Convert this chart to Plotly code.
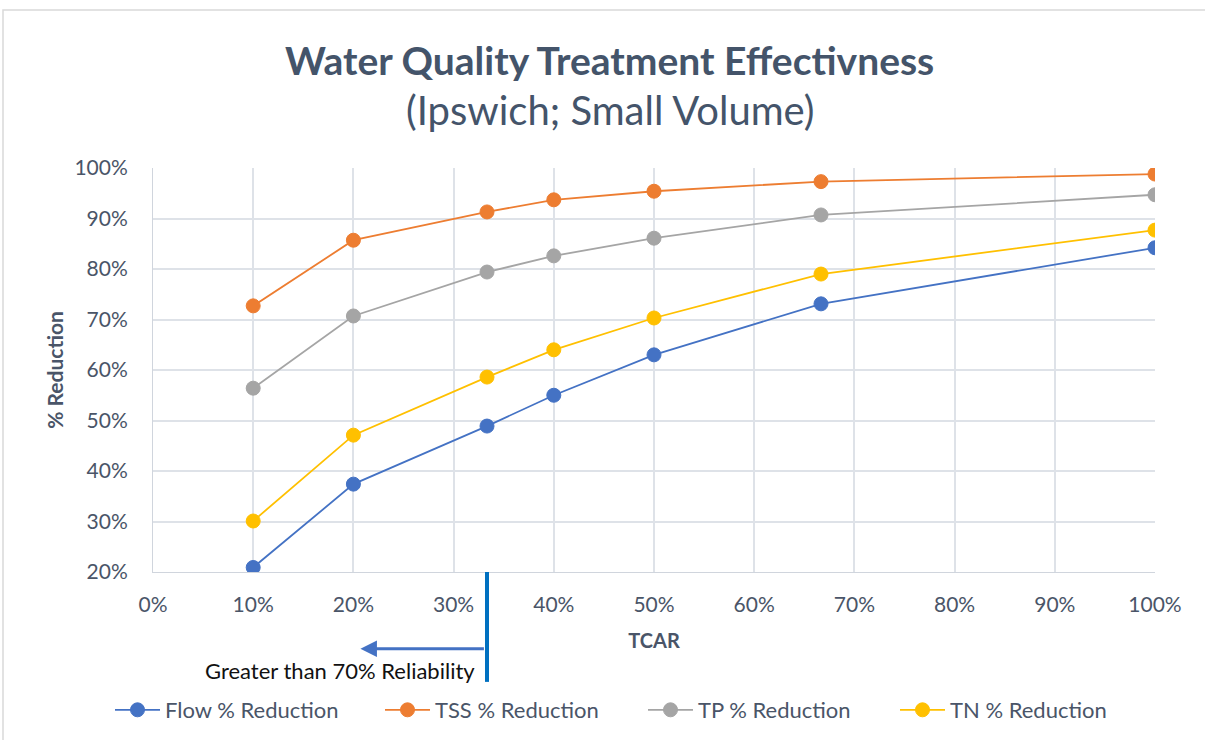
import plotly.graph_objects as go

# TCAR values (fraction of catchment) and % reduction for each constituent
tcar = [0.10, 0.20, 1/3, 0.40, 0.50, 2/3, 1.00]
flow_red = [0.209, 0.374, 0.489, 0.550, 0.630, 0.731, 0.842]
tss_red = [0.727, 0.857, 0.913, 0.937, 0.954, 0.973, 0.988]
tp_red = [0.564, 0.707, 0.794, 0.826, 0.861, 0.907, 0.947]
tn_red = [0.301, 0.471, 0.586, 0.640, 0.703, 0.790, 0.877]

series_names = ["Flow % Reduction", "TSS % Reduction", "TP % Reduction", "TN % Reduction"]
series_vals = [flow_red, tss_red, tp_red, tn_red]
series_colors = ["#4472C4", "#ED7D31", "#A5A5A5", "#FFC000"]

reliability_tcar = 1/3

FONT = "Lato"
TXT = "#4A5568"

# one legend per series so the entries sit evenly across the footer
legend_ids = ["legend", "legend2", "legend3", "legend4"]
legend_left_px = [110, 380, 643, 895]

fig = go.Figure()
for name, vals, col, lid in zip(series_names, series_vals, series_colors, legend_ids):
    fig.add_trace(go.Scatter(
        x=tcar, y=vals, name=name, mode="lines+markers", legend=lid,
        line=dict(color=col, width=1.8),
        marker=dict(size=14, color=col, line=dict(color=col, width=1)),
    ))

# reliability threshold marker below the axis
fig.add_shape(type="line", xref="x", yref="paper",
              x0=reliability_tcar, x1=reliability_tcar, y0=0, y1=-0.272,
              line=dict(color="#0070C0", width=4), layer="above")
fig.add_annotation(xref="x", yref="paper", x=0.207, y=-0.19,
                   ax=125, ay=0, text="", showarrow=True, arrowhead=2,
                   arrowsize=1.1, arrowwidth=3, arrowcolor="#4472C4")
fig.add_annotation(xref="x", yref="paper", x=0.323, y=-0.243,
                   xanchor="right", yanchor="middle", showarrow=False,
                   text="Greater than 70% Reliability",
                   font=dict(family=FONT, size=22, color="#111111"))

# title and subtitle
fig.add_annotation(xref="paper", yref="paper", x=0.456, y=1.267,
                   xanchor="center", yanchor="middle", showarrow=False,
                   text="<b>Water Quality Treatment Effectivness</b>",
                   font=dict(family=FONT, size=39, color="#44546A"))
fig.add_annotation(xref="paper", yref="paper", x=0.456, y=1.144,
                   xanchor="center", yanchor="middle", showarrow=False,
                   text="(Ipswich; Small Volume)",
                   font=dict(family=FONT, size=40, color="#44546A"))

# outer chart frame
fig.add_shape(type="rect", xref="paper", yref="paper",
              x0=-0.1497, x1=1.06, y0=-0.43, y1=1.391,
              line=dict(color="#D9D9D9", width=1.5), layer="below")

legend_style = dict(
    orientation="h", xref="container", xanchor="left",
    yref="container", y=(740 - 710) / 740, yanchor="middle",
    font=dict(family=FONT, size=22, color=TXT), itemwidth=45,
    bgcolor="rgba(0,0,0,0)",
)

fig.update_layout(
    width=1205, height=740,
    margin=dict(l=153, r=50, t=168, b=168, autoexpand=False),
    paper_bgcolor="white", plot_bgcolor="white",
    font=dict(family=FONT, color=TXT, size=20),
    xaxis=dict(
        range=[0, 1], tickvals=[i/10 for i in range(11)], tickformat=".0%",
        showgrid=True, gridcolor="#DEE2E8", gridwidth=1.5,
        showline=True, linecolor="#D0D5DD", zeroline=False,
        ticks="", ticklabelstandoff=14,
        tickfont=dict(family=FONT, size=21, color=TXT),
        title=dict(text="<b>TCAR</b>", standoff=18, font=dict(family=FONT, size=20, color=TXT)),
    ),
    yaxis=dict(
        range=[0.2, 1.0], tickvals=[i/10 for i in range(2, 11)], tickformat=".0%",
        showgrid=True, gridcolor="#DEE2E8", gridwidth=1.5,
        showline=True, linecolor="#D0D5DD", zeroline=False,
        ticks="", ticklabelstandoff=20,
        tickfont=dict(family=FONT, size=21, color=TXT),
        title=dict(text="<b>% Reduction</b>", standoff=5, font=dict(family=FONT, size=21, color=TXT)),
    ),
    showlegend=True,
)
for lid, px in zip(legend_ids, legend_left_px):
    fig.update_layout({lid: dict(legend_style, x=px / 1205)})

fig.write_html("out.html")
